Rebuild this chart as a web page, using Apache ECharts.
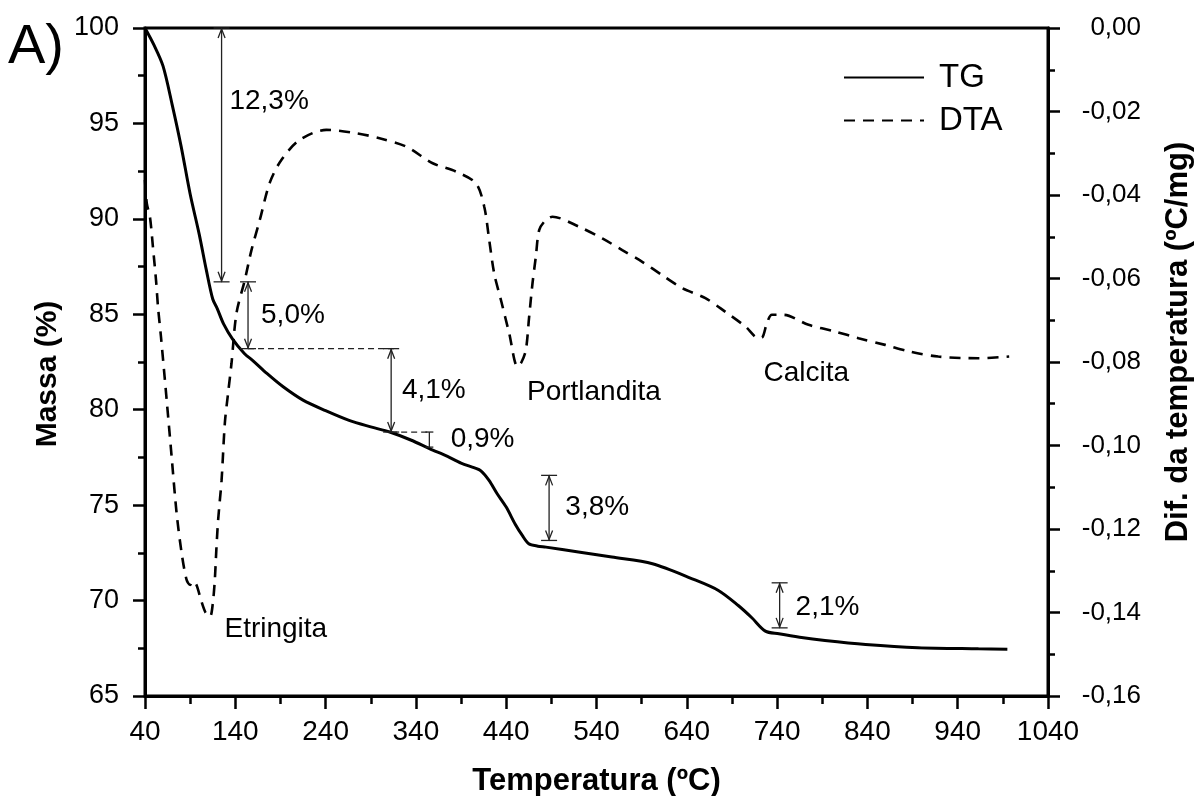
<!DOCTYPE html>
<html>
<head>
<meta charset="utf-8">
<script src="https://cdn.jsdelivr.net/npm/echarts@6/dist/echarts.min.js"></script>
<style>
  html, body { margin: 0; padding: 0; background: #fff; }
  #chart { width: 1195px; height: 796px; }
</style>
</head>
<body>
<div id="chart"></div>
<script>
const FONT = '"Liberation Sans", Arial, Helvetica, sans-serif';

// TG curve: temperature (ºC) and remaining mass (%)
const tgTemp = [40, 50, 60, 70, 80, 90, 100, 108, 115, 120, 127, 137, 150, 160, 175, 193, 215, 240,
  266, 290, 311, 335, 355, 375, 390, 405, 412, 421, 430, 440, 450, 458, 465, 475, 484, 520, 557, 602,
  646, 675, 697, 712, 727, 742, 765, 793, 838, 896, 963, 995];
const tgMass = [100, 99.1, 98.0, 96.0, 93.8, 91.3, 89.2, 87.3, 85.8, 85.3, 84.5, 83.7, 82.95, 82.55, 81.9,
  81.2, 80.5, 79.95, 79.44, 79.1, 78.83, 78.4, 77.96, 77.55, 77.2, 76.95, 76.8, 76.3, 75.6, 74.9, 74.0,
  73.4, 72.98, 72.85, 72.80, 72.55, 72.28, 71.93, 71.14, 70.53, 69.74, 69.1, 68.40, 68.26, 68.08, 67.91,
  67.70, 67.53, 67.47, 67.45];

// DTA curve: temperature (ºC) and temperature difference (ºC/mg)
const dtaTemp = [40, 42, 45.5, 48.8, 52.2, 54.4, 57.7, 64.0, 69.5, 75.0, 80.6, 86.1, 90, 93, 97, 102, 107,
  112, 115, 117.3, 119, 121, 124.8, 128.4, 132, 135.8, 141.3, 150.5, 157.9, 167.1, 178.1, 191.0, 211.3,
  240.8, 273.9, 299.7, 329.2, 358.6, 384.4, 406.5, 415.7, 421.2, 426.7, 434.1, 443.3, 452.5, 457, 461.8,
  465.4, 469.1, 472.8, 476.5, 483, 491.2, 520.7, 546.4, 568.5, 590.6, 612.7, 634.8, 660.6, 682.8, 704.9,
  719.6, 724, 728.7, 734.3, 747.2, 774.8, 804.3, 830.1, 859.6, 887.2, 918.5, 962.7, 997];
const dtaSignal = [-0.0364, -0.0420, -0.0453, -0.0525, -0.0604, -0.0668, -0.0740, -0.0891, -0.1027, -0.1162,
  -0.1258, -0.1322, -0.1334, -0.1325, -0.1334, -0.1370, -0.1400, -0.1410, -0.1380, -0.1322, -0.1250, -0.1178,
  -0.1083, -0.0947, -0.0875, -0.0803, -0.0683, -0.0604, -0.0532, -0.0460, -0.0371, -0.0316, -0.0268, -0.0244,
  -0.0252, -0.0264, -0.0284, -0.0324, -0.0344, -0.0372, -0.0428, -0.0508, -0.0588, -0.0651, -0.0731, -0.0811,
  -0.0800, -0.0771, -0.0692, -0.0612, -0.0548, -0.0484, -0.0462, -0.0452, -0.0476, -0.0504, -0.0532, -0.0560,
  -0.0592, -0.0623, -0.0647, -0.0680, -0.0715, -0.0743, -0.0740, -0.0707, -0.0687, -0.0687, -0.0711, -0.0727,
  -0.0743, -0.0759, -0.0775, -0.0787, -0.0791, -0.0787];

// Axis ticks
const xTicks = [40, 140, 240, 340, 440, 540, 640, 740, 840, 940, 1040];
const xMinorTicks = [90, 190, 290, 390, 490, 590, 690, 790, 890, 990];

// Mass-loss steps: bracket position, upper and lower mass levels, arrowheads, label
const stepTemp = [124.8, 154.1, 312.6, 354.9, 487.5, 742.8];
const stepTop = [100, 86.7, 83.2, 78.83, 76.56, 70.93];
const stepBottom = [86.7, 83.2, 78.83, 78.04, 73.15, 68.57];
const stepArrows = [1, 1, 1, 0, 1, 1];
const stepLabels = ['12,3%', '5,0%', '4,1%', '0,9%', '3,8%', '2,1%'];
const stepLabelTemp = [133.5, 168.5, 324.5, 378.5, 505.5, 760.5];
const stepLabelMass = [96.14, 84.95, 81.02, 78.43, 74.90, 69.66];

// Dashed reference levels between steps
const guideFrom = [154.1, 312.6];
const guideTo = [318, 355];
const guideMass = [83.2, 78.83];

// Decomposition peaks on the DTA curve
const peakNames = ['Etringita', 'Portlandita', 'Calcita'];
const peakTemp = [128, 463, 725];
const peakMass = [68.52, 80.93, 81.89];

const chart = echarts.init(document.getElementById('chart'), null, { renderer: 'canvas' });

const black = '#000';
const axisLineStyle = { color: black, width: 3 };
const tickStyle = { color: black, width: 2.5 };

function bracketItem(params, api) {
  const x = api.value(0);
  const p1 = api.coord([x, api.value(1)]);
  const p2 = api.coord([x, api.value(2)]);
  const arrows = api.value(3) === 1;
  const cap = arrows ? 8 : 4;
  const style = { stroke: '#222', lineWidth: 1.3, fill: null };
  const children = [
    { type: 'line', shape: { x1: p1[0], y1: p1[1], x2: p2[0], y2: p2[1] }, style },
    { type: 'line', shape: { x1: p1[0] - cap, y1: p1[1], x2: p1[0] + cap, y2: p1[1] }, style },
    { type: 'line', shape: { x1: p2[0] - cap, y1: p2[1], x2: p2[0] + cap, y2: p2[1] }, style }
  ];
  if (arrows) {
    children.push({ type: 'polyline', shape: { points: [[p1[0] - 3.5, p1[1] + 10], [p1[0], p1[1] + 1], [p1[0] + 3.5, p1[1] + 10]] }, style });
    children.push({ type: 'polyline', shape: { points: [[p2[0] - 3.5, p2[1] - 10], [p2[0], p2[1] - 1], [p2[0] + 3.5, p2[1] - 10]] }, style });
  }
  return { type: 'group', children };
}

function guideItem(params, api) {
  const a = api.coord([api.value(0), api.value(2)]);
  const b = api.coord([api.value(1), api.value(2)]);
  return {
    type: 'line',
    shape: { x1: a[0], y1: a[1], x2: b[0], y2: b[1] },
    style: { stroke: '#222', lineWidth: 1.2, lineDash: [6, 4] }
  };
}

function labelSeries(xs, ys, texts) {
  return {
    type: 'custom', xAxisIndex: 0, yAxisIndex: 0, silent: true, z: 5,
    data: xs.map((x, i) => [x, ys[i]]),
    renderItem: (params, api) => {
      const p = api.coord([api.value(0), api.value(1)]);
      return {
        type: 'text',
        x: p[0], y: p[1],
        style: {
          text: texts[params.dataIndex],
          fontSize: 28, fontFamily: FONT, fill: black,
          align: 'left', verticalAlign: 'middle'
        }
      };
    }
  };
}

const option = {
  backgroundColor: '#fff',
  animation: false,
  textStyle: { fontFamily: FONT, color: black },
  grid: {
    left: 145, right: 147, top: 28, bottom: 100,
    containLabel: false, outerBoundsMode: 'none',
    show: true, borderColor: black, borderWidth: 3, backgroundColor: 'transparent'
  },
  legend: {
    data: ['TG', 'DTA'],
    orient: 'vertical',
    left: 838, top: 56,
    itemWidth: 80, itemHeight: 14, itemGap: 10,
    itemStyle: { opacity: 0 },
    textStyle: { fontSize: 33, color: black, fontFamily: FONT, padding: [0, 0, 0, 10] }
  },
  graphic: [{
    type: 'text', left: 8, top: 20,
    style: { text: 'A)', fontSize: 56, fontFamily: FONT, fill: black }
  }],
  xAxis: [{
    type: 'value', min: 40, max: 1040, position: 'bottom',
    axisLine: { show: true, onZero: false, lineStyle: axisLineStyle },
    axisTick: { show: true, customValues: xTicks, length: 13, lineStyle: tickStyle },
    axisLabel: {
      customValues: xTicks, fontSize: 28, color: black, margin: 22, fontFamily: FONT,
      formatter: v => String(v)
    },
    splitLine: { show: false },
    name: 'Temperatura (ºC)', nameLocation: 'middle', nameGap: 70,
    nameTextStyle: { fontSize: 31, fontWeight: 'bold', color: black, fontFamily: FONT }
  }, {
    type: 'value', min: 40, max: 1040, position: 'bottom',
    axisLine: { show: false, onZero: false },
    axisTick: { show: true, customValues: xMinorTicks, length: 8, lineStyle: tickStyle },
    axisLabel: { show: false },
    splitLine: { show: false }
  }],
  yAxis: [{
    type: 'value', min: 65, max: 100, interval: 5, position: 'left',
    axisLine: { show: true, onZero: false, lineStyle: axisLineStyle },
    axisTick: { show: true, length: 12, lineStyle: tickStyle },
    minorTick: { show: true, splitNumber: 2, length: 7, lineStyle: tickStyle },
    axisLabel: { fontSize: 27, color: black, margin: 26, fontFamily: FONT },
    splitLine: { show: false },
    name: 'Massa (%)', nameLocation: 'middle', nameGap: 81, nameRotate: 90,
    nameTextStyle: { fontSize: 30, fontWeight: 'bold', color: black, fontFamily: FONT, padding: [0, 24, 0, 0] }
  }, {
    type: 'value', min: -0.16, max: 0, interval: 0.02, position: 'right',
    axisLine: { show: true, onZero: false, lineStyle: axisLineStyle },
    axisTick: { show: true, length: 12, lineStyle: tickStyle },
    minorTick: { show: true, splitNumber: 2, length: 7, lineStyle: tickStyle },
    axisLabel: {
      fontSize: 26, color: black, margin: 93, align: 'right', fontFamily: FONT,
      formatter: v => (Math.abs(v) < 1e-9 ? 0 : v).toFixed(2).replace('.', ',')
    },
    splitLine: { show: false },
    name: 'Dif. da temperatura (ºC/mg)', nameLocation: 'middle', nameGap: 115, nameRotate: 90,
    nameTextStyle: { fontSize: 31, fontWeight: 'bold', color: black, fontFamily: FONT, padding: [0, 0, 0, 40] }
  }],
  series: [{
    name: 'TG', type: 'line', xAxisIndex: 0, yAxisIndex: 0,
    data: tgTemp.map((t, i) => [t, tgMass[i]]),
    showSymbol: false, symbol: 'none', smooth: 0.3, z: 4,
    lineStyle: { color: black, width: 3, type: 'solid' },
    itemStyle: { color: black }
  }, {
    name: 'DTA', type: 'line', xAxisIndex: 0, yAxisIndex: 1,
    data: dtaTemp.map((t, i) => [t, dtaSignal[i]]),
    showSymbol: false, symbol: 'none', smooth: 0.3, z: 3,
    lineStyle: { color: black, width: 2.6, type: [11, 8] },
    itemStyle: { color: black }
  }, {
    type: 'custom', xAxisIndex: 0, yAxisIndex: 0, silent: true, z: 5,
    data: stepTemp.map((t, i) => [t, stepTop[i], stepBottom[i], stepArrows[i]]),
    renderItem: bracketItem
  }, {
    type: 'custom', xAxisIndex: 0, yAxisIndex: 0, silent: true, z: 5,
    data: guideFrom.map((f, i) => [f, guideTo[i], guideMass[i]]),
    renderItem: guideItem
  },
  labelSeries(stepLabelTemp, stepLabelMass, stepLabels),
  labelSeries(peakTemp, peakMass, peakNames)
  ]
};

chart.setOption(option);
</script>
</body>
</html>
